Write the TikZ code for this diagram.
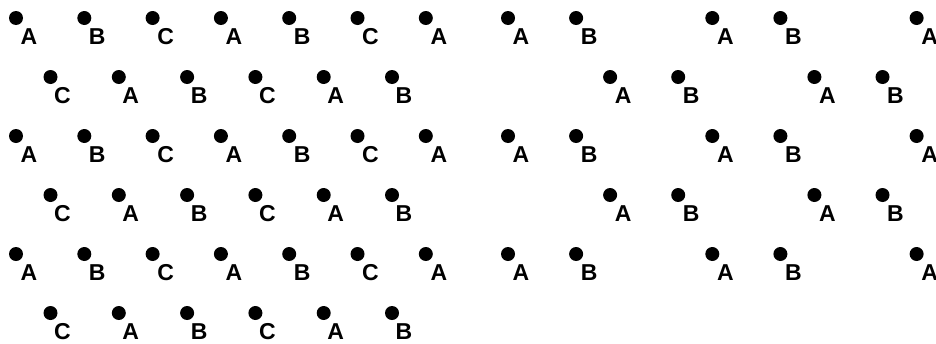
\documentclass[tikz,border=0pt]{standalone}
\usepackage{fontspec}
\setmainfont{Liberation Sans}
\usepackage{tikz}
\usetikzlibrary{positioning}
\newcommand{\stacklabel}[1]{\ifcase#1 A\or B\or C\fi}

\begin{document}
\begin{tikzpicture}[
  x=1pt,y=-1pt,
  atom/.style={circle,fill=black,inner sep=0pt,minimum size=14pt},
  site/.style={font=\fontsize{23}{23}\selectfont\bfseries,inner sep=0pt}
]
\useasboundingbox (0,0) rectangle (936,343);
% left block: ABC stacking (even rows)
\foreach \r in {0,2,4}
  \foreach \c in {0,...,6}{
    \pgfmathtruncatemacro\idx{mod(\c,3)}
    \node[atom] (L\r-\c) at (16+68.3*\c,18+59*\r) {};
    \node[site] (l\r-\c) at ([shift={(13,19)}]L\r-\c) {\stacklabel{\idx}};
  }
% left block: odd rows
\foreach \r in {1,3,5}
  \foreach \c in {0,...,5}{
    \pgfmathtruncatemacro\idx{mod(\c+2,3)}
    \node[atom] (L\r-\c) at (50.5+68.3*\c,18+59*\r) {};
    \node[site] (l\r-\c) at ([shift={(12,19)}]L\r-\c) {\stacklabel{\idx}};
  }
% right block: AB stacking, every third site empty
\foreach \r in {0,2,4}
  \foreach \c in {0,1,3,4,6}{
    \pgfmathtruncatemacro\idx{mod(\c,3)}
    \node[atom] (R\r-\c) at (508+68.1*\c,18+59*\r) {};
    \node[site] (r\r-\c) at ([shift={(13,19)}]R\r-\c) {\stacklabel{\idx}};
  }
\foreach \r in {1,3}
  \foreach \c in {1,2,4,5}{
    \pgfmathtruncatemacro\idx{mod(\c-1,3)}
    \node[atom] (R\r-\c) at (542+68.1*\c,18+59*\r) {};
    \node[site] (r\r-\c) at ([shift={(13,19)}]R\r-\c) {\stacklabel{\idx}};
  }
\end{tikzpicture}
\end{document}
